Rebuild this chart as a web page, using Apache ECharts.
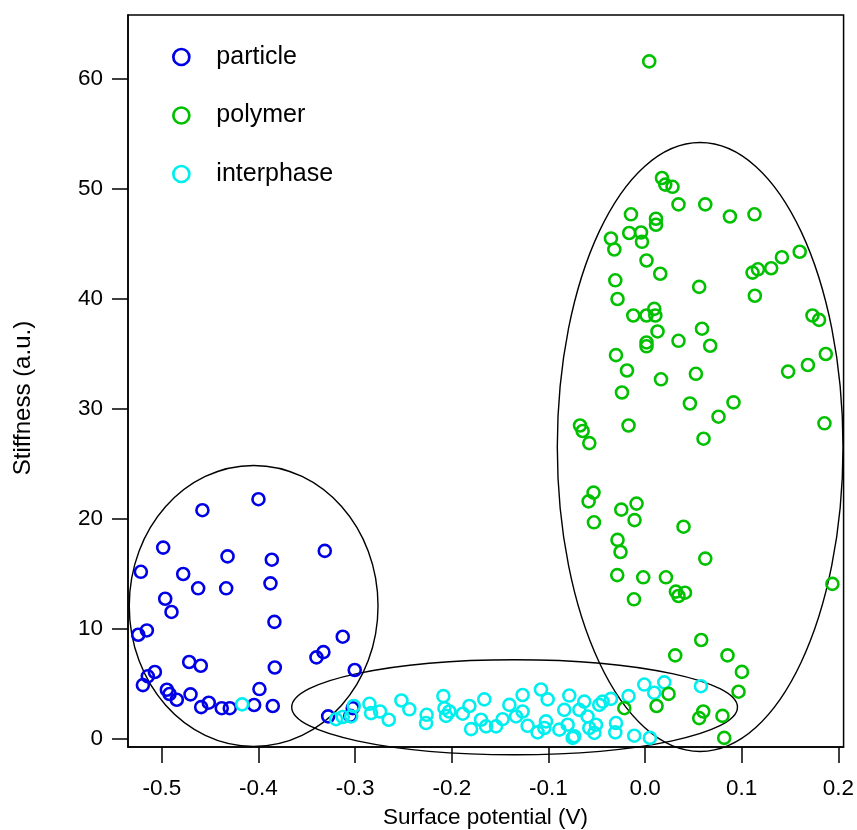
<!DOCTYPE html>
<html>
<head>
<meta charset="utf-8">
<title>Stiffness vs surface potential</title>
<script src="https://cdn.jsdelivr.net/npm/echarts@6/dist/echarts.min.js"></script>
<style>
  html, body { margin: 0; padding: 0; background: #fff; }
  #chart { width: 857px; height: 830px; }
</style>
</head>
<body>
<div id="chart"></div>
<script>
// Surface potential (V) and stiffness (a.u.) for each phase
const particle = [
  [-0.400, 21.8], [-0.458, 20.8], [-0.4986, 17.4], [-0.3314, 17.1], [-0.432, 16.6], [-0.3862, 16.3],
  [-0.5217, 15.2], [-0.4779, 15.0], [-0.4624, 13.7], [-0.4334, 13.7], [-0.3876, 14.15], [-0.4965, 12.75],
  [-0.490, 11.55], [-0.3835, 10.65], [-0.5155, 9.87], [-0.5244, 9.48], [-0.3128, 9.3], [-0.3328, 7.9],
  [-0.340, 7.42], [-0.4717, 7.0], [-0.4597, 6.66], [-0.3831, 6.5], [-0.3004, 6.27], [-0.5072, 6.09],
  [-0.5145, 5.7], [-0.5196, 4.9], [-0.399, 4.54], [-0.4948, 4.48], [-0.492, 4.09], [-0.4703, 4.06],
  [-0.4845, 3.57], [-0.4514, 3.3], [-0.4593, 2.9], [-0.438, 2.8], [-0.4297, 2.8], [-0.4045, 3.09],
  [-0.3852, 3.0], [-0.3279, 2.06], [-0.3025, 2.8], [-0.305, 2.1]
];

const polymer = [
  [0.0043, 61.6],
  [0.0175, 51.0], [0.0209, 50.4], [0.0284, 50.2], [0.0346, 48.6], [0.0623, 48.6],
  [-0.0146, 47.7], [0.0878, 47.5], [0.1132, 47.7],
  [0.0113, 47.3], [0.0113, 46.75], [-0.0164, 46.0], [-0.0042, 46.05], [-0.0032, 45.2],
  [-0.0353, 45.5], [-0.0318, 44.5], [0.160, 44.3], [0.1416, 43.8], [0.0015, 43.5],
  [0.1305, 42.8], [0.1168, 42.7], [0.1112, 42.4], [0.0157, 42.3], [-0.0308, 41.7], [0.056, 41.1],
  [0.1136, 40.3], [-0.0285, 40.0], [0.0095, 39.1], [-0.0122, 38.5], [0.0015, 38.5], [0.0106, 38.5],
  [0.1732, 38.5], [0.180, 38.1], [0.0589, 37.3], [0.0129, 37.05], [0.0346, 36.2], [0.0015, 36.05],
  [0.0015, 35.7], [0.0674, 35.75], [-0.0301, 34.9], [0.187, 35.0], [0.1685, 34.0], [-0.0187, 33.5],
  [0.148, 33.4], [0.0526, 33.2], [0.0165, 32.7], [-0.0239, 31.5], [0.0915, 30.6], [0.0464, 30.5],
  [0.076, 29.3], [0.1856, 28.7], [-0.0673, 28.5], [-0.0171, 28.5], [-0.0646, 28.0], [0.0605, 27.3],
  [-0.0577, 26.9], [-0.0533, 22.4], [-0.0584, 21.6], [-0.0088, 21.4], [-0.0246, 20.85], [-0.0109, 19.9],
  [-0.0529, 19.7], [0.0398, 19.3], [-0.0285, 18.1], [-0.0254, 17.0], [0.0623, 16.4], [-0.0288, 14.9],
  [-0.0019, 14.7], [0.0216, 14.7], [0.1938, 14.1], [0.0319, 13.4], [0.0413, 13.3], [0.0346, 13.0],
  [-0.0115, 12.7], [0.0581, 9.0], [0.0312, 7.6], [0.0853, 7.6], [0.1002, 6.1], [0.0967, 4.3],
  [0.0243, 4.1], [0.0119, 3.0], [-0.0215, 2.8], [0.0602, 2.5], [0.056, 1.9], [0.0801, 2.1], [0.0819, 0.1]
];

const interphase = [
  [-0.4169, 3.15],
  [-0.3197, 1.8], [-0.3128, 2.0], [-0.3041, 2.05], [-0.3014, 3.0], [-0.2852, 3.2], [-0.2835, 2.35],
  [-0.2742, 2.5], [-0.2652, 1.75], [-0.2521, 3.5], [-0.2439, 2.7], [-0.226, 2.2], [-0.2266, 1.45],
  [-0.2087, 3.9], [-0.2076, 2.8], [-0.2025, 2.5], [-0.2059, 2.1], [-0.1886, 2.3], [-0.1818, 3.0],
  [-0.180, 0.9], [-0.1663, 3.6], [-0.1697, 1.75], [-0.1645, 1.15], [-0.1404, 3.1], [-0.1267, 4.0],
  [-0.1474, 1.8], [-0.1542, 1.15], [-0.1335, 2.05], [-0.1267, 2.5], [-0.1215, 1.2], [-0.1077, 4.5],
  [-0.1008, 3.6], [-0.1112, 0.6], [-0.1025, 1.6], [-0.1042, 1.0], [-0.0887, 0.85], [-0.0836, 2.65],
  [-0.0784, 3.95], [-0.0801, 1.3], [-0.0732, 0.25], [-0.0749, 0.1], [-0.068, 2.65], [-0.0629, 3.4],
  [-0.0595, 2.05], [-0.0577, 1.0], [-0.0525, 0.55], [-0.0508, 1.3], [-0.0474, 3.1], [-0.0439, 3.4],
  [-0.0353, 3.65], [-0.0301, 1.45], [-0.0308, 0.6], [-0.0171, 3.9], [-0.0112, 0.3], [-0.0008, 4.95],
  [0.005, 0.1], [0.0095, 4.2], [0.0199, 5.15], [0.0578, 4.8]
];

// Outline ellipses around each cluster, in data units
const ellipseCx = [-0.405, -0.135, 0.057];
const ellipseCy = [12.1, 2.89, 26.55];
const ellipseRx = [0.1287, 0.2306, 0.1478];
const ellipseRy = [12.77, 4.32, 27.68];

const xTicks = [-0.5, -0.4, -0.3, -0.2, -0.1, 0.0, 0.1, 0.2];
const yTicks = [0, 10, 20, 30, 40, 50, 60];

const ellipses = ellipseCx.map((cx, i) => [cx, ellipseCy[i], ellipseRx[i], ellipseRy[i]]);

const FONT = '"Liberation Sans", Arial, sans-serif';
const colors = { particle: '#0000e6', polymer: '#00c000', interphase: '#00eeee' };

function scatter(name, data) {
  return {
    name: name,
    type: 'scatter',
    data: data,
    symbol: 'circle',
    symbolSize: 12,
    itemStyle: { color: 'rgba(0,0,0,0)', borderColor: colors[name], borderWidth: 2.6, opacity: 1 },
    emphasis: { disabled: true },
    z: 3
  };
}

const chart = echarts.init(document.getElementById('chart'), null, { renderer: 'canvas' });

chart.setOption({
  animation: false,
  backgroundColor: '#fff',
  grid: {
    left: 128, right: 13, top: 15, bottom: 83,
    show: true, borderColor: '#000', borderWidth: 1.5, backgroundColor: 'transparent'
  },
  xAxis: {
    type: 'value',
    min: -0.535, max: 0.2054,
    axisLine: { show: true, onZero: false, lineStyle: { color: '#000', width: 1.5 } },
    axisTick: { show: true, length: 16, lineStyle: { color: '#000', width: 1.5 }, customValues: xTicks },
    axisLabel: {
      customValues: xTicks, margin: 30, color: '#000', fontSize: 22.5, fontFamily: FONT,
      formatter: v => v.toFixed(1)
    },
    splitLine: { show: false }
  },
  yAxis: {
    type: 'value',
    min: -0.727, max: 65.82,
    axisLine: { show: true, onZero: false, lineStyle: { color: '#000', width: 1.5 } },
    axisTick: { show: true, length: 16, lineStyle: { color: '#000', width: 1.5 }, customValues: yTicks },
    axisLabel: {
      customValues: yTicks, margin: 25, color: '#000', fontSize: 22.5, fontFamily: FONT,
      formatter: v => String(Math.round(v))
    },
    splitLine: { show: false }
  },
  legend: {
    data: ['particle', 'polymer', 'interphase'],
    orient: 'vertical',
    left: 172, top: 44.5,
    padding: 0,
    itemWidth: 16, itemHeight: 16, itemGap: 33.5,
    itemStyle: { borderWidth: 2.7 },
    textStyle: { fontSize: 25, fontFamily: FONT, color: '#000', padding: [0, 0, 0, 22] },
    selectedMode: false
  },
  graphic: [
    {
      type: 'text', x: 485.5, y: 818,
      style: { text: 'Surface potential (V)', font: '22.5px ' + FONT, fill: '#000', align: 'center', verticalAlign: 'middle' }
    },
    {
      type: 'text', x: 23, y: 398, rotation: Math.PI / 2,
      style: { text: 'Stiffness (a.u.)', font: '24px ' + FONT, fill: '#000', align: 'center', verticalAlign: 'middle' }
    }
  ],
  series: [
    {
      name: 'outline',
      type: 'custom',
      data: ellipses,
      clip: false,
      silent: true,
      z: 2,
      encode: { x: 0, y: 1 },
      renderItem: function (params, api) {
        const c = [api.value(0), api.value(1)];
        const p = api.coord(c);
        const s = api.size([api.value(2), api.value(3)], c);
        return {
          type: 'ellipse',
          shape: { cx: p[0], cy: p[1], rx: s[0], ry: s[1] },
          style: { fill: null, stroke: '#000', lineWidth: 1.4 }
        };
      }
    },
    scatter('particle', particle),
    scatter('interphase', interphase),
    scatter('polymer', polymer)
  ]
});
</script>
</body>
</html>
